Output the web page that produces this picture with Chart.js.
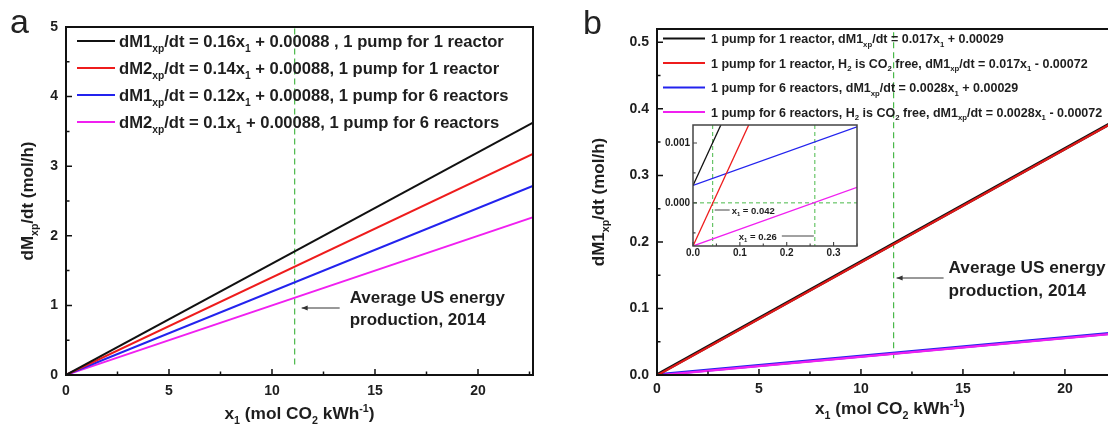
<!DOCTYPE html>
<html><head><meta charset="utf-8">
<script src="https://cdn.jsdelivr.net/npm/chart.js@4.4.0/dist/chart.umd.min.js"></script>
<style>
html,body{margin:0;padding:0;background:#fff;}
#wrap{position:relative;width:1108px;height:432px;overflow:hidden;background:#fff;}
canvas{position:absolute;}
#ca{left:0;top:0;}
#cb{left:560px;top:0;}
#ci{left:650px;top:115px;}
</style></head><body><div id="wrap">
<canvas id="ca" width="550" height="432"></canvas>
<canvas id="cb" width="565" height="432"></canvas>
<canvas id="ci" width="215" height="150"></canvas>
</div>
<script>
// ---------------- data ----------------
const xEnds = [0, 22.7];
const seriesColors = ['#111111', '#ee1c1c', '#2323ee', '#f020f0'];

const aLegend = [
  'dM1_{xp}/dt = 0.16x_{1} + 0.00088 , 1 pump for 1 reactor',
  'dM2_{xp}/dt = 0.14x_{1} + 0.00088, 1 pump for 1 reactor',
  'dM1_{xp}/dt = 0.12x_{1} + 0.00088, 1 pump for 6 reactors',
  'dM2_{xp}/dt = 0.1x_{1} + 0.00088, 1 pump for 6 reactors'
];
const aBlack = [0.00088, 3.63];
const aRed = [0.00088, 3.18];
const aBlue = [0.00088, 2.72];
const aMagenta = [0.00088, 2.27];
const aAvgX = 11.1;
const aXTickLabels = ['0', '5', '10', '15', '20'];
const aYTickLabels = ['0', '1', '2', '3', '4', '5'];

const bLegend = [
  '1 pump for 1 reactor, dM1_{xp}/dt = 0.017x_{1} + 0.00029',
  '1 pump for 1 reactor, H_{2} is CO_{2} free, dM1_{xp}/dt = 0.017x_{1} - 0.00072',
  '1 pump for 6 reactors, dM1_{xp}/dt = 0.0028x_{1} + 0.00029',
  '1 pump for 6 reactors, H_{2} is CO_{2} free, dM1_{xp}/dt = 0.0028x_{1} - 0.00072'
];
const bBlack = [0.00029, 0.386];
const bRed = [-0.00072, 0.385];
const bBlue = [0.00029, 0.0639];
const bMagenta = [-0.00072, 0.0628];
const bAvgX = 11.6;
const bXTickLabels = ['0', '5', '10', '15', '20'];
const bYTickLabels = ['0.0', '0.1', '0.2', '0.3', '0.4', '0.5'];

const insetX = [0, 0.35];
const insetBlack = [0.00029, 0.00624];
const insetRed = [-0.00072, 0.00523];
const insetBlue = [0.00029, 0.00127];
const insetMagenta = [-0.00072, 0.00026];
const insetMarks = [0.042, 0.26];
const insetMarkLabels = ['x_{1} = 0.042', 'x_{1} = 0.26'];
const insetXTickLabels = ['0.0', '0.1', '0.2', '0.3'];
const insetYTickLabels = ['0.000', '0.001'];

const xTitle = 'x_{1} (mol CO_{2} kWh^{-1})';
const aYTitle = 'dM_{xp}/dt (mol/h)';
const bYTitle = 'dM1_{xp}/dt (mol/h)';
const noteLines = ['Average US energy', 'production, 2014'];

// ---------------- helpers ----------------
const FAM = '"Liberation Sans", Arial, sans-serif';
const TXT = '#1e1e1e';
function parseRich(s){
  const out=[]; const re=/(_\{[^}]*\}|\^\{[^}]*\})/g; let last=0, m;
  while((m=re.exec(s))){
    if(m.index>last) out.push({t:s.slice(last,m.index),k:0});
    out.push({t:m[0].slice(2,-1),k:m[0][0]==='_'?1:2});
    last=re.lastIndex;
  }
  if(last<s.length) out.push({t:s.slice(last),k:0});
  return out;
}
function richMeasure(ctx,parts,size,weight){
  let w=0;
  for(const p of parts){
    const fs = p.k? size*0.62 : size;
    ctx.font = weight+' '+fs+'px '+FAM;
    w += ctx.measureText(p.t).width;
  }
  return w;
}
function drawRich(ctx,s,x,y,size,align,weight,color){
  weight = weight||'bold';
  const parts=parseRich(s);
  const w=richMeasure(ctx,parts,size,weight);
  let cx = align==='center'? x-w/2 : (align==='right'? x-w : x);
  ctx.save();
  ctx.fillStyle=color||TXT; ctx.textAlign='left'; ctx.textBaseline='alphabetic';
  for(const p of parts){
    const fs = p.k? size*0.62 : size;
    ctx.font = weight+' '+fs+'px '+FAM;
    const dy = p.k===1? size*0.28 : (p.k===2? -size*0.42 : 0);
    ctx.fillText(p.t,cx,y+dy);
    cx += ctx.measureText(p.t).width;
  }
  ctx.restore();
}
function near(v,list){ return list.find(l => Math.abs(parseFloat(l)-v) < 1e-9); }
function tickCb(labels){ return function(v){ const l = near(v,labels); return l===undefined? '' : l; }; }
function pts(xs,ys){ return xs.map((x,i)=>({x:x,y:ys[i]})); }
function ds(data,color,width,order){
  return {data:data,borderColor:color,borderWidth:width,pointRadius:0,fill:false,tension:0,order:order};
}
function frameTicks(chart,lw,major,minor,color){
  const ctx=chart.ctx, a=chart.chartArea, xs=chart.scales.x, ys=chart.scales.y;
  ctx.save();
  ctx.strokeStyle=color; ctx.lineWidth=lw;
  ctx.strokeRect(a.left,a.top,a.right-a.left,a.bottom-a.top);
  ctx.lineWidth=Math.max(1,lw*0.75);
  ctx.beginPath();
  xs.ticks.forEach(t=>{ const p=xs.getPixelForValue(t.value); const L = t.label!==''? major:minor;
    ctx.moveTo(p,a.bottom); ctx.lineTo(p,a.bottom-L); });
  ys.ticks.forEach(t=>{ const p=ys.getPixelForValue(t.value); const L = t.label!==''? major:minor;
    ctx.moveTo(a.left,p); ctx.lineTo(a.left+L,p); });
  ctx.stroke();
  ctx.restore();
}
function greenV(chart,xv,y0,y1){
  const ctx=chart.ctx, xs=chart.scales.x, ys=chart.scales.y;
  const px=xs.getPixelForValue(xv);
  ctx.save(); ctx.strokeStyle='#49b949'; ctx.lineWidth=1.2; ctx.setLineDash([6,4]);
  ctx.beginPath(); ctx.moveTo(px,ys.getPixelForValue(y0)); ctx.lineTo(px,ys.getPixelForValue(y1)); ctx.stroke();
  ctx.restore();
}
function arrowLeft(ctx,x0,x1,y){
  ctx.save(); ctx.strokeStyle='#333'; ctx.fillStyle='#333'; ctx.lineWidth=1;
  ctx.beginPath(); ctx.moveTo(x0,y); ctx.lineTo(x1,y); ctx.stroke();
  ctx.beginPath(); ctx.moveTo(x0,y); ctx.lineTo(x0+6,y-2.5); ctx.lineTo(x0+6,y+2.5); ctx.closePath(); ctx.fill();
  ctx.restore();
}
function legend(ctx,labels,colors,x0,x1,tx,ys,size){
  labels.forEach((l,i)=>{
    ctx.save(); ctx.strokeStyle=colors[i]; ctx.lineWidth=2;
    ctx.beginPath(); ctx.moveTo(x0,ys[i]); ctx.lineTo(x1,ys[i]); ctx.stroke(); ctx.restore();
    drawRich(ctx,l,tx,ys[i]+size*0.36,size,'left');
  });
}
const tickFont = {family:FAM, size:14, weight:'bold'};
function baseOpts(o){
  return {
    responsive:false, animation:false, devicePixelRatio:1, events:[],
    layout:{padding:o.pad},
    plugins:{legend:{display:false},tooltip:{enabled:false}},
    scales:{
      x:{type:'linear',min:o.xmin,max:o.xmax,
        grid:{display:false,drawTicks:false,tickLength:0},border:{display:false},
        ticks:{stepSize:o.xstep,includeBounds:false,autoSkip:false,maxRotation:0,padding:o.xpad,
          color:TXT,font:o.tf||tickFont,callback:tickCb(o.xlabels)},
        afterFit:function(s){ s.height=o.xh; }},
      y:{type:'linear',min:o.ymin,max:o.ymax,
        grid:{display:false,drawTicks:false,tickLength:0},border:{display:false},
        ticks:{stepSize:o.ystep,includeBounds:false,autoSkip:false,padding:o.ypad,
          color:TXT,font:o.tf||tickFont,callback:tickCb(o.ylabels)},
        afterFit:function(s){ s.width=o.yw; }}
    }
  };
}

// ---------------- chart a ----------------
const optsA = baseOpts({pad:{top:27,right:17,left:0,bottom:0},xmin:0,xmax:22.67,xstep:2.5,ymin:0,ymax:5,ystep:0.5,
  xlabels:aXTickLabels,ylabels:aYTickLabels,xh:57,yw:66,xpad:8,ypad:8});
new Chart(document.getElementById('ca'),{
  type:'line',
  data:{datasets:[
    ds(pts(xEnds,aBlack),seriesColors[0],2,0),
    ds(pts(xEnds,aRed),seriesColors[1],2,1),
    ds(pts(xEnds,aBlue),seriesColors[2],2,2),
    ds(pts(xEnds,aMagenta),seriesColors[3],2,3)
  ]},
  options:optsA,
  plugins:[{
    id:'decorA',
    beforeDatasetsDraw(chart){ greenV(chart,aAvgX,4.98,0.15); },
    afterDraw(chart){
      const ctx=chart.ctx, xs=chart.scales.x, ys=chart.scales.y, a=chart.chartArea;
      frameTicks(chart,2,6,3.5,'#111');
      legend(ctx,aLegend,seriesColors,77,115,119,[41,68,95,122],16.6);
      const gx=xs.getPixelForValue(aAvgX);
      arrowLeft(ctx,gx+7,gx+45,308);
      drawRich(ctx,noteLines[0],gx+55,303,17,'left');
      drawRich(ctx,noteLines[1],gx+55,325,17,'left');
      drawRich(ctx,xTitle,(a.left+a.right)/2,419,17.3,'center');
      ctx.save(); ctx.translate(27,(a.top+a.bottom)/2); ctx.rotate(-Math.PI/2);
      drawRich(ctx,aYTitle,0,6,17,'center'); ctx.restore();
      drawRich(ctx,'a',10,33,34,'left','normal','#222');
    }
  }]
});

// ---------------- chart b ----------------
const optsB = baseOpts({pad:{top:29,right:5,left:0,bottom:0},xmin:0,xmax:22.7,xstep:2.5,ymin:0,ymax:0.52,ystep:0.05,
  xlabels:bXTickLabels,ylabels:bYTickLabels,xh:57,yw:97,xpad:6,ypad:8});
new Chart(document.getElementById('cb'),{
  type:'line',
  data:{datasets:[
    ds(pts(xEnds,bBlack),seriesColors[0],3,1),
    ds(pts(xEnds,bRed),'#e01818',2.2,0),
    ds(pts(xEnds,bBlue),seriesColors[2],3,3),
    ds(pts(xEnds,bMagenta),seriesColors[3],2.2,2)
  ]},
  options:optsB,
  plugins:[{
    id:'decorB',
    beforeDatasetsDraw(chart){ greenV(chart,bAvgX,0.515,0.02); },
    afterDraw(chart){
      const ctx=chart.ctx, xs=chart.scales.x, ys=chart.scales.y, a=chart.chartArea;
      frameTicks(chart,2,6,3.5,'#111');
      legend(ctx,bLegend,seriesColors,103,145,151,[38.5,63,87.5,112],12.5);
      const gx=xs.getPixelForValue(bAvgX);
      arrowLeft(ctx,gx+3,gx+50,278);
      drawRich(ctx,noteLines[0],gx+55,273,17.2,'left');
      drawRich(ctx,noteLines[1],gx+55,296,17.2,'left');
      drawRich(ctx,xTitle,330,414,17.3,'center');
      ctx.save(); ctx.translate(38,(a.top+a.bottom)/2); ctx.rotate(-Math.PI/2);
      drawRich(ctx,bYTitle,0,6,17,'center'); ctx.restore();
      drawRich(ctx,'b',23,34,34,'left','normal','#222');
    }
  }]
});

// ---------------- inset ----------------
const optsI = baseOpts({pad:{top:10,right:8,left:0,bottom:0},xmin:0,xmax:0.35,xstep:0.05,ymin:-0.00072,ymax:0.0013,ystep:0.0005,
  xlabels:insetXTickLabels,ylabels:insetYTickLabels,xh:19,yw:43,xpad:1,ypad:3,tf:{family:FAM,size:10,weight:'bold'}});
new Chart(document.getElementById('ci'),{
  type:'line',
  data:{datasets:[
    ds(pts(insetX,insetBlack),seriesColors[0],1.3,0),
    ds(pts(insetX,insetRed),seriesColors[1],1.3,1),
    ds(pts(insetX,insetBlue),seriesColors[2],1.3,2),
    ds(pts(insetX,insetMagenta),seriesColors[3],1.3,3)
  ]},
  options:optsI,
  plugins:[{
    id:'decorI',
    beforeDatasetsDraw(chart){
      const ctx=chart.ctx, a=chart.chartArea, xs=chart.scales.x, ys=chart.scales.y;
      ctx.save(); ctx.fillStyle='#fff'; ctx.fillRect(a.left,a.top,a.right-a.left,a.bottom-a.top);
      ctx.strokeStyle='#49b949'; ctx.lineWidth=1; ctx.setLineDash([4,3]);
      ctx.beginPath();
      insetMarks.forEach(m=>{ const p=xs.getPixelForValue(m); ctx.moveTo(p,a.top); ctx.lineTo(p,a.bottom); });
      const py=ys.getPixelForValue(0); ctx.moveTo(a.left,py); ctx.lineTo(a.right,py);
      ctx.stroke(); ctx.restore();
    },
    afterDraw(chart){
      const ctx=chart.ctx, a=chart.chartArea, xs=chart.scales.x;
      frameTicks(chart,1.5,4,2.5,'#444');
      const p0=xs.getPixelForValue(insetMarks[0]), p1=xs.getPixelForValue(insetMarks[1]);
      ctx.save(); ctx.strokeStyle='#444'; ctx.lineWidth=1; ctx.beginPath();
      ctx.moveTo(p0+2,95); ctx.lineTo(p0+17,95);
      ctx.moveTo(p1-33,121); ctx.lineTo(p1-1,121);
      ctx.stroke(); ctx.restore();
      drawRich(ctx,insetMarkLabels[0],p0+19,98.5,9.5,'left');
      drawRich(ctx,insetMarkLabels[1],p1-76,124.5,9.5,'left');
    }
  }]
});
</script>
</body></html>
